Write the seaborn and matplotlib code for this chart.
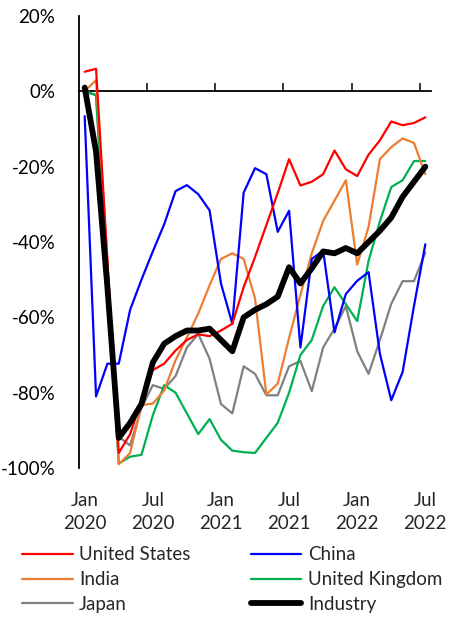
import numpy as np
import pandas as pd
import seaborn as sns
import matplotlib.pyplot as plt
from matplotlib.ticker import FuncFormatter

# monthly values, Jan 2020 - Jul 2022 (% change)
months = pd.date_range("2020-01-01", "2022-07-01", freq="MS")
us = [5.2, 6, -45, -96, -91, -82, -74, -72.3, -68.8, -66, -64.5, -65, -63.5, -61.7, -52,
      -44, -35.5, -27, -18, -25, -24, -22, -15.7, -20.7, -22.5, -16.8, -13, -8, -9, -8.4, -6.9]
china = [-6.6, -81, -72.3, -72.3, -58, -50, -42.5, -35.3, -26.5, -24.9, -27.3, -31.6, -51,
         -61.7, -26.9, -20.4, -22, -37.3, -31.7, -68, -44.5, -42.3, -64, -53.8, -50.3, -48,
         -69.7, -82, -74.5, -57, -40.6]
india = [0, 3, -45, -99, -96, -83.3, -82.9, -79.4, -71.4, -65.3, -59, -51.5, -44.5, -43,
         -44.5, -55, -80.5, -77.6, -65.5, -54, -43, -34.4, -29, -23.6, -46, -36, -18, -14.8,
         -12.5, -13.7, -22]
uk = [0, -1, -50, -98.8, -97, -96.5, -86, -78, -80, -85.5, -91, -87, -92.5, -95.4, -95.8,
      -96, -92, -88, -80, -70, -66, -57, -52, -56.5, -61, -45, -34.5, -25.4, -23.6, -18.5, -18.5]
japan = [0, -1, -50, -91.7, -94, -84, -78, -79, -75.6, -68, -64.4, -71, -83, -85.5, -73, -75,
         -80.7, -80.7, -73, -71.6, -79.6, -68, -63, -57, -69, -75, -66, -56.4, -50.4, -50.4, -42.8]
industry = [1, -16, -52, -92, -88, -83, -72, -67, -65, -63.5, -63.5, -63, -66, -69, -60, -58,
            -56.5, -54.5, -46.7, -51, -47, -42.5, -43, -41.6, -43, -40, -37, -33.5, -28, -24, -20]

df = pd.DataFrame({"United States": us, "China": china, "India": india,
                   "United Kingdom": uk, "Japan": japan, "Industry": industry}, index=months)
x = np.arange(len(months))

colors = {"United States": "#FF0000", "China": "#0000FF", "India": "#ED7D31",
          "United Kingdom": "#00B050", "Japan": "#808080", "Industry": "#000000"}

sns.set_style("white")
plt.rcParams["font.family"] = ["Lato", "DejaVu Sans"]
plt.rcParams["font.size"] = 13.5

fig = plt.figure(figsize=(4.5, 6.18), dpi=100)
ax = fig.add_axes([0.1756, 0.2427, 0.7822, 0.7314])

for name in ["Japan", "United Kingdom", "India", "China", "United States", "Industry"]:
    lw = 4.2 if name == "Industry" else 1.6
    sns.lineplot(x=x, y=df[name].values, color=colors[name], linewidth=lw,
                 label=name, ax=ax, zorder=3 if name == "Industry" else 2)

ax.set_xlim(-0.5, len(months) - 0.5)
ax.set_ylim(-100, 20)
ax.set_yticks(np.arange(-100, 21, 20))
ax.yaxis.set_major_formatter(FuncFormatter(lambda v, p: f"{v:.0f}%"))
ax.tick_params(axis="y", direction="in", length=6, width=1.3, pad=17, colors="black")

tick_pos = x[::6]
ax.set_xticks(tick_pos, labels=[d.strftime("%b\n%Y") for d in months[::6]])
ax.tick_params(axis="x", length=0, pad=17)
for t in ax.get_xticklabels():
    t.set_linespacing(1.45)

for s in ["top", "right", "bottom"]:
    ax.spines[s].set_visible(False)
ax.spines["left"].set_color("black")
ax.spines["left"].set_linewidth(1.3)

# horizontal axis line crossing at 0%
sec = ax.secondary_xaxis(100 / 120)
sec.set_xticks(tick_pos[1:] - 0.5)
sec.tick_params(direction="out", length=6, width=1.3, labeltop=False, labelbottom=False)
for s in sec.spines.values():
    s.set_linewidth(1.3)
    s.set_color("black")

order = ["United States", "India", "Japan", "China", "United Kingdom", "Industry"]
h, l = ax.get_legend_handles_labels()
hmap = dict(zip(l, h))
ax.legend([hmap[n] for n in order], order, ncol=2, loc="upper left",
          bbox_to_anchor=(0.049, 0.116), bbox_transform=fig.transFigure,
          frameon=False, borderpad=0, borderaxespad=0, handlelength=2.7,
          handletextpad=0.35, columnspacing=3.2, labelspacing=0.42)

fig.savefig("out.png", dpi=100)
